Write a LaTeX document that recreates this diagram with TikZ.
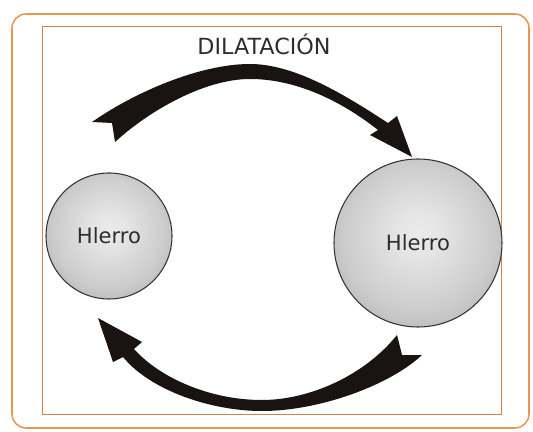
\documentclass[tikz,border=0pt]{standalone}
\usepackage{fontspec}
\setmainfont{DejaVu Sans}
\definecolor{marco}{RGB}{232,150,85}
\definecolor{borde}{RGB}{210,130,75}
\definecolor{tinta}{RGB}{25,20,18}
\definecolor{letra}{RGB}{45,45,45}
\pgfdeclareradialshading{hierro}{\pgfpoint{0bp}{3bp}}{color(0bp)=(white!92!black); color(6bp)=(white!90!black); color(22bp)=(gray!40); color(50bp)=(gray!96); color(55bp)=(gray!96)}
\tikzstyle{bola} = [circle, draw=black!80, line width=0.9pt, shading=hierro, inner sep=0pt, text=letra, font=\fontsize{18}{18}\selectfont]

\begin{document}
\begin{tikzpicture}[x=0.03cm, y=-0.03cm]
	\useasboundingbox (0,0) rectangle (533,432);
	% marcos
	\draw [marco, line width=1.3pt, rounded corners=12] (12,14) rectangle (529,428);
	\draw [borde, line width=0.8pt] (42,26) rectangle (501,414);
	\node [text=letra, font=\fontsize{19}{19}\selectfont] (titulo) at (264,44) {DILATACIÓN};
	% bolas de hierro
	\node [bola, minimum size=3.78cm] (chica) at (109,236) {Hlerro};
	\node [bola, minimum size=5.04cm] (grande) at (418,243) {Hlerro};
	% flecha de arriba
	\coordinate (puntaA) at (412,157);
	\coordinate (colaA) at (112,123);
	\fill [tinta] (colaA) -- (92,122)
		.. controls (135,92) and (200,64) .. (250,64)
		.. controls (295,64) and (345,95) .. (388,123)
		-- (397,116) -- (puntaA) -- (370,135) -- (378,130)
		.. controls (340,100) and (295,79) .. (250,79)
		.. controls (205,79) and (150,110) .. (115,142)
		-- cycle;
	% flecha de abajo
	\coordinate (puntaB) at (98,318);
	\coordinate (colaB) at (402,355);
	\fill [tinta] (colaB) -- (422,355)
		.. controls (390,385) and (320,411) .. (262,411)
		.. controls (210,411) and (150,390) .. (123,357)
		-- (113,362) -- (puntaB) -- (142,342) -- (134,349)
		.. controls (160,378) and (210,400) .. (262,400)
		.. controls (310,400) and (365,375) .. (397,335)
		-- cycle;
\end{tikzpicture}
\end{document}
